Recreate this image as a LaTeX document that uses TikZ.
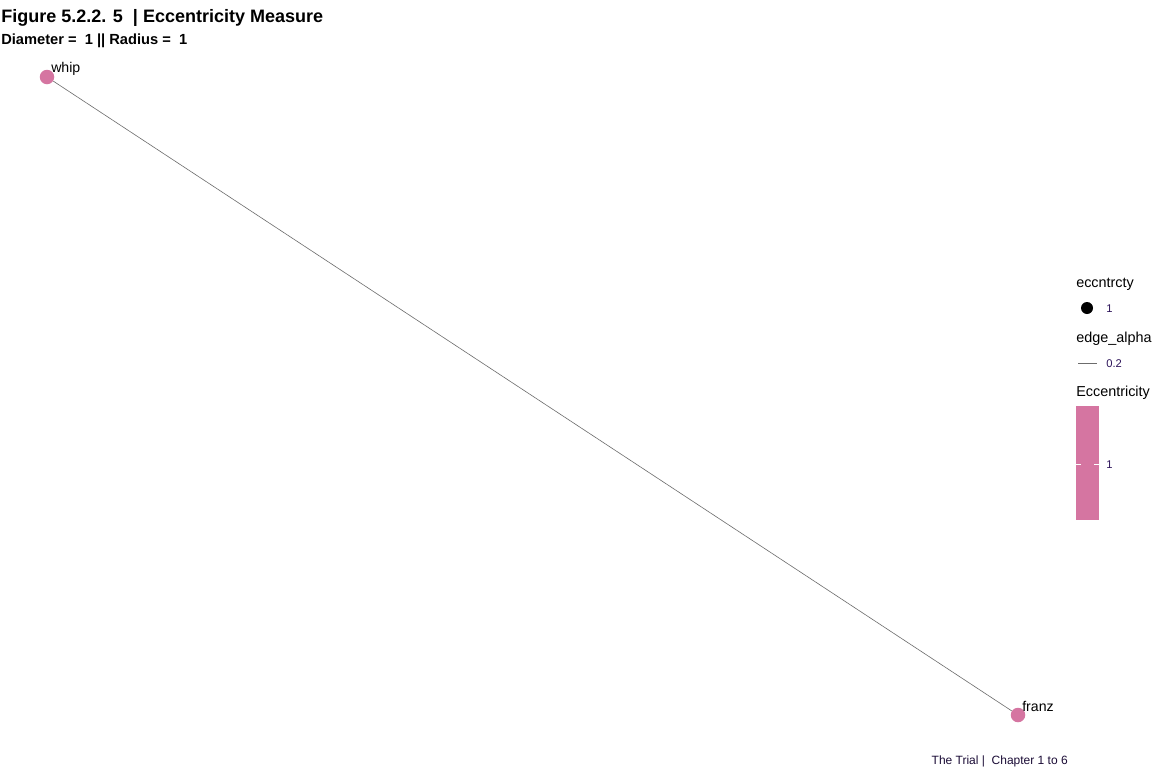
\documentclass[tikz,border=0pt]{standalone}
\usepackage{fontspec}
\setmainfont{Liberation Sans}
\begin{document}
\begin{tikzpicture}[x=0.75pt,y=-0.75pt,
  vert/.style={circle,fill=pinkc,inner sep=0pt,minimum size=14.5*0.75pt},
  vlabel/.style={font=\fontsize{10.6}{12}\selectfont,inner sep=0pt,anchor=south west},
  legtitle/.style={font=\fontsize{10.8}{12}\selectfont,inner sep=0pt,anchor=west},
  legval/.style={font=\fontsize{8.4}{10}\selectfont,text=valc,inner sep=0pt,anchor=west},
  edge/.style={draw=gray!85!black,line width=0.45pt}]
\definecolor{pinkc}{RGB}{213,117,161}
\definecolor{valc}{RGB}{45,20,90}
\useasboundingbox (0,0) rectangle (1152,768);
\fill[white] (0,0) rectangle (1152,768);
% title
\node[font=\bfseries\fontsize{13.5}{15}\selectfont,anchor=west,inner sep=0pt] (title) at (1,17.5) {Figure 5.2.2. 5 \ | Eccentricity Measure};
\node[font=\bfseries\fontsize{11}{13}\selectfont,anchor=west,inner sep=0pt] (sub) at (1,40.5) {Diameter = \ 1 || Radius = \ 1};
% graph
\node[vert] (whip) at (47,77) {};
\node[vert] (franz) at (1018,715) {};
\draw[edge] (whip) -- (franz);
\node[vlabel] (lwhip) at (51,75.5) {whip};
\node[vlabel] (lfranz) at (1022,712) {franz};
% legend
\node[legtitle] (lt1) at (1076,284.5) {eccntrcty};
\node[circle,fill=black,inner sep=0pt,minimum size=12*0.75pt] (ldot) at (1087,308) {};
\node[legval] (lv1) at (1106,309) {1};
\node[legtitle] (lt2) at (1076,338.5) {edge\_alpha};
\coordinate (la) at (1078,363);
\coordinate (lb) at (1097,363);
\draw[edge] (la) -- (lb);
\node[legval] (lv2) at (1106,364) {0.2};
\node[legtitle] (lt3) at (1076,392.5) {Eccentricity};
\fill[pinkc] (1076,406) rectangle (1099,520);
\draw[white,line width=0.6pt] (1076,464) -- (1081,464) (1094,464) -- (1099,464);
\node[legval] (lv3) at (1106,465) {1};
% caption
\node[font=\fontsize{9}{10}\selectfont,anchor=east,inner sep=0pt,text=valc!60!black] (cap) at (1068,761.5) {The Trial | \ Chapter 1 to 6};
\end{tikzpicture}
\end{document}
